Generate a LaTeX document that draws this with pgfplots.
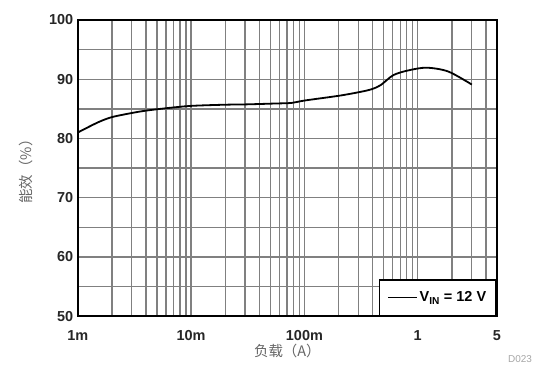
\documentclass[border=0pt]{standalone}
\usepackage{pgfplots}
\pgfplotsset{compat=1.18}
\usepackage{fontspec}
\setmainfont{Liberation Sans}
\newfontfamily\cjk{Noto Sans CJK SC}
\begin{document}
\begin{tikzpicture}
\begin{axis}[
  name=ax,
  xmode=log,
  scale only axis,
  width=419bp, height=296bp,
  xmin=0.001, xmax=5,
  ymin=50, ymax=100,
  xtick={0.001,0.01,0.1,1,5},
  xticklabels={1m,10m,100m,1,5},
  minor xtick={0.002,0.003,0.004,0.005,0.006,0.007,0.008,0.009,0.02,0.03,0.04,0.05,0.06,0.07,0.08,0.09,0.2,0.3,0.4,0.5,0.6,0.7,0.8,0.9,2,3,4},
  ytick={50,60,70,80,90,100},
  minor ytick={55,65,75,85,95},
  grid=both,
  major grid style={black!50, line width=1.3bp},
  minor grid style={black!50, line width=1.3bp},
  major tick length=0pt, minor tick length=0pt,
  axis line style={black, line width=2bp},
  tick label style={font=\bfseries\fontsize{14.5}{15}\selectfont, text=black!85},
  /pgf/number format/assume math mode=true,
  xticklabel style={yshift=-11bp},
  yticklabel style={xshift=-1bp},
  xlabel={\cjk 负载（A）},
  ylabel={\cjk 能效（\%）},
  xlabel style={font=\fontsize{14.5}{15}\selectfont, text=black!60, yshift=4bp},
  ylabel style={font=\fontsize{14.5}{15}\selectfont, text=black!60, yshift=9bp},
  legend style={at={(1,0)}, anchor=south east, draw=black, line width=1.6bp,
    font=\bfseries\fontsize{14.5}{15}\selectfont, inner xsep=8bp, inner ysep=10bp},
  legend cell align=left,
  legend image code/.code={\draw[line width=1.8bp,black] (0cm,0cm) -- (1.0cm,0cm);},
]
\addplot[black, line width=1.8bp, smooth, tension=0.5] coordinates {
(0.001,81.0)
(0.0015,82.7)
(0.002,83.6)
(0.003,84.3)
(0.004,84.7)
(0.006,85.1)
(0.01,85.5)
(0.02,85.7)
(0.03,85.75)
(0.055,85.9)
(0.077,86.0)
(0.1,86.4)
(0.2,87.2)
(0.3,87.8)
(0.39,88.3)
(0.47,89.0)
(0.61,90.7)
(0.83,91.5)
(1.2,91.95)
(1.86,91.3)
(3.0,89.1)
};
\addlegendentry{V\textsubscript{IN} = 12 V}
\end{axis}
\node[font=\fontsize{10}{11}\selectfont, text=black!35, anchor=center] at ([xshift=23bp,yshift=-43bp]ax.south east) {D023};
\path[use as bounding box] ([xshift=-77.7bp,yshift=-61bp]ax.south west) rectangle ([xshift=53bp,yshift=20bp]ax.north east);
\end{tikzpicture}
\end{document}
